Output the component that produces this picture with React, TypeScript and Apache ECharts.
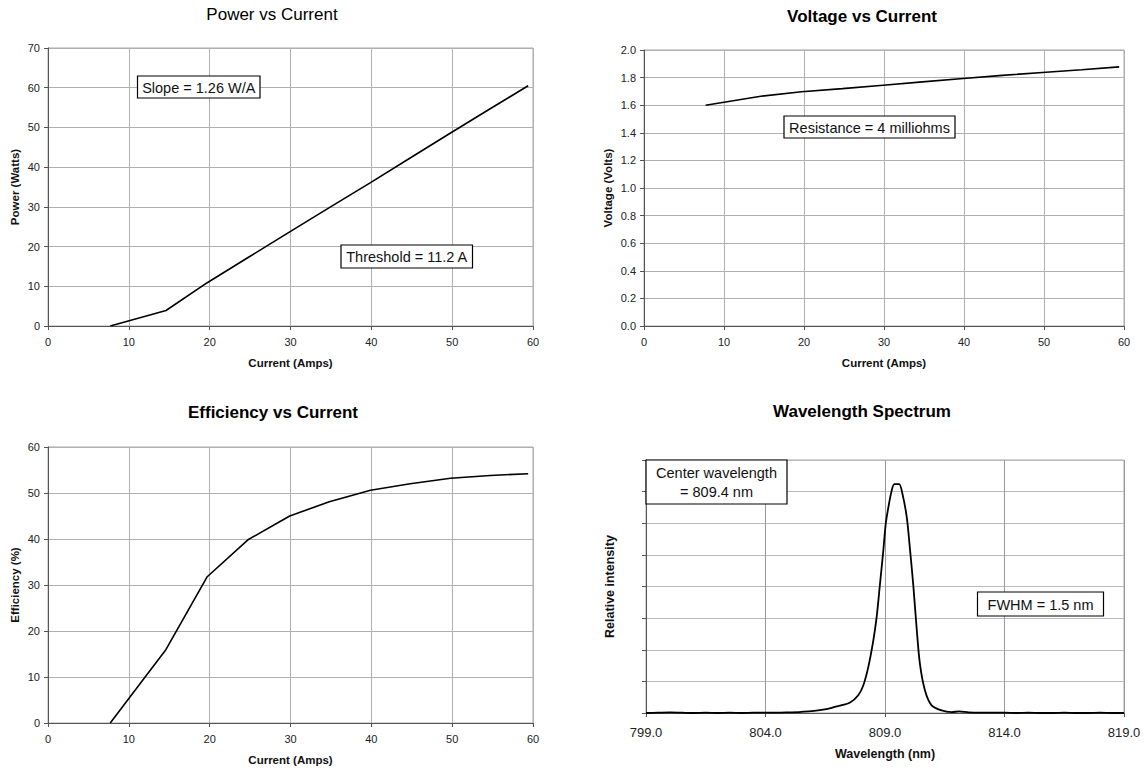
import React, { useEffect, useRef } from "react";
import * as echarts from "echarts";

// ---------- data ----------
const current = [7.7, 14.6, 19.7, 24.8, 29.9, 34.8, 39.9, 44.8, 49.8, 54.7, 59.4];
const powerW = [0, 3.9, 10.9, 17.3, 23.7, 29.8, 36.1, 42.3, 48.6, 54.7, 60.5];
const voltageV = [1.6, 1.665, 1.698, 1.72, 1.745, 1.769, 1.794, 1.816, 1.837, 1.857, 1.878];
const efficiencyPct = [0, 16.0, 31.8, 39.9, 45.0, 48.1, 50.6, 52.0, 53.2, 53.8, 54.2];

const wavelengthNm = [
  799.0, 799.5, 800.0, 800.5, 801.0, 801.5, 802.0, 802.5, 803.0, 803.5, 804.0, 804.5,
  805.0, 805.4, 805.8, 806.2, 806.6, 806.9, 807.2, 807.54, 807.88, 808.09, 808.3, 808.51,
  808.65, 808.79, 808.93, 809.03, 809.14, 809.27, 809.39, 809.59, 809.73, 809.91, 810.05,
  810.19, 810.32, 810.46, 810.67, 810.95, 811.37, 811.79, 812.1, 812.5, 813.0, 813.5,
  814.0, 814.5, 815.0, 815.5, 816.0, 816.5, 817.0, 817.5, 818.0, 818.5, 819.0,
];
const intensity = [
  0.0, 0.01, 0.02, 0.01, 0.0, 0.01, 0.0, 0.01, 0.0, 0.01, 0.01, 0.01,
  0.02, 0.03, 0.05, 0.08, 0.13, 0.19, 0.25, 0.33, 0.56, 0.87, 1.45, 2.29,
  3.03, 4.08, 5.14, 5.98, 6.5, 7.0, 7.24, 7.24, 6.93, 6.19, 5.14,
  3.98, 2.72, 1.56, 0.72, 0.24, 0.08, 0.03, 0.05, 0.02, 0.01, 0.01,
  0.01, 0.0, 0.01, 0.0, 0.0, 0.01, 0.0, 0.0, 0.01, 0.0, 0.0,
];

const powerTicks = { min: 0, max: 70, interval: 10 };
const voltageTicks = { min: 0, max: 2, interval: 0.2 };
const effTicks = { min: 0, max: 60, interval: 10 };
const currentTicks = { min: 0, max: 60, interval: 10 };
const waveTicks = { min: 799, max: 819, interval: 5 };
const intensityTicks = { min: 0, max: 8, interval: 1 };

const titles = ["Power vs Current", "Voltage vs Current", "Efficiency vs Current", "Wavelength Spectrum"];
const notes = ["Slope = 1.26 W/A", "Threshold = 11.2 A", "Resistance = 4 milliohms", "Center wavelength\n= 809.4 nm", "FWHM = 1.5 nm"];

const FONT = "'Liberation Sans', Arial, Helvetica, sans-serif";

function pairs(xs: number[], ys: number[]) {
  return xs.map((x, i) => [x, ys[i]]);
}

export default function App() {
  const ref = useRef<HTMLDivElement>(null);
  useEffect(() => {
    if (!ref.current) return;
    const chart = echarts.init(ref.current, undefined, { renderer: "svg" });

    const grids = [
      { left: 48, top: 48, width: 485, height: 278 },
      { left: 644, top: 50, width: 480, height: 276 },
      { left: 48, top: 447, width: 485, height: 276 },
      { left: 646, top: 460, width: 478, height: 253 },
    ].map((g) => ({ ...g, show: true, borderColor: "#a8a8a8", borderWidth: 1, backgroundColor: "transparent", containLabel: false }));

    const axisCommon = (nameSize: number, labelSize: number, margin: number) => ({
      type: "value" as const,
      nameLocation: "middle" as const,
      nameTextStyle: { fontFamily: FONT, fontWeight: "bold", fontSize: nameSize, color: "#111" },
      axisLine: { show: true, lineStyle: { color: "#555", width: 1 } },
      axisTick: { show: true, length: 4, lineStyle: { color: "#555" } },
      axisLabel: { fontFamily: FONT, fontSize: labelSize, color: "#222", margin },
      splitLine: { show: true, lineStyle: { color: "#b0b0b0", width: 1 } },
    });

    const xAxis = [
      { ...axisCommon(11.5, 11, 10), gridIndex: 0, ...currentTicks, name: "Current (Amps)", nameGap: 31 },
      { ...axisCommon(11.5, 11, 10), gridIndex: 1, ...currentTicks, name: "Current (Amps)", nameGap: 31 },
      { ...axisCommon(11.5, 11, 10), gridIndex: 2, ...currentTicks, name: "Current (Amps)", nameGap: 31 },
      {
        ...axisCommon(12.5, 13, 13),
        gridIndex: 3,
        ...waveTicks,
        name: "Wavelength (nm)",
        nameGap: 34,
        axisLabel: { fontFamily: FONT, fontSize: 13, color: "#222", margin: 13, formatter: (v: number) => v.toFixed(1) },
        splitLine: { show: true, lineStyle: { color: "#999", width: 1 } },
      },
    ];
    const yAxis = [
      { ...axisCommon(11.5, 11, 8), gridIndex: 0, ...powerTicks, name: "Power (Watts)", nameGap: 27 },
      {
        ...axisCommon(11.5, 11, 8),
        gridIndex: 1,
        ...voltageTicks,
        name: "Voltage (Volts)",
        nameGap: 30,
        axisLabel: { fontFamily: FONT, fontSize: 11, color: "#222", margin: 8, formatter: (v: number) => v.toFixed(1) },
      },
      { ...axisCommon(11.5, 11, 8), gridIndex: 2, ...effTicks, name: "Efficiency (%)", nameGap: 27 },
      {
        ...axisCommon(12.5, 11, 8),
        gridIndex: 3,
        ...intensityTicks,
        name: "Relative intensity",
        nameGap: 30,
        axisLabel: { show: false },
        splitLine: { show: true, lineStyle: { color: "#bbb", width: 1 } },
      },
    ];

    const lineSeries = (idx: number, data: number[][], width: number, smooth: boolean | number) => ({
      type: "line" as const,
      xAxisIndex: idx,
      yAxisIndex: idx,
      data,
      showSymbol: false,
      symbol: "none",
      smooth,
      lineStyle: { color: "#000", width },
      z: 5,
    });

    const titlePos = [
      [272, 14, "normal"],
      [862, 16, "bold"],
      [273, 412, "bold"],
      [862, 411, "bold"],
    ];
    const titleGraphics = titles.map((t, i) => ({
      type: "text",
      x: titlePos[i][0] as number,
      y: titlePos[i][1] as number,
      z: 100,
      style: {
        text: t,
        textAlign: "center",
        textVerticalAlign: "middle",
        font: `${titlePos[i][2]} 17px ${FONT}`,
        fill: "#000",
      },
    }));

    const boxes = [
      [137.5, 76, 122.5, 22],
      [341, 245, 131.5, 23],
      [784, 116, 171, 22],
      [646, 460, 141, 44],
      [977.5, 592, 126, 24],
    ];
    const noteGraphics: any[] = [];
    notes.forEach((t, i) => {
      const [x, y, w, h] = boxes[i];
      noteGraphics.push({
        type: "rect",
        z: 100,
        shape: { x, y, width: w, height: h },
        style: { fill: "#fff", stroke: "#000", lineWidth: 1.2 },
      });
      noteGraphics.push({
        type: "text",
        z: 101,
        x: x + w / 2,
        y: y + h / 2 + 0.5,
        style: {
          text: t,
          textAlign: "center",
          textVerticalAlign: "middle",
          font: `normal 14.5px ${FONT}`,
          lineHeight: 19.5,
          fill: "#111",
        },
      });
    });

    chart.setOption({
      animation: false,
      backgroundColor: "#fff",
      textStyle: { fontFamily: FONT },
      grid: grids,
      xAxis,
      yAxis,
      series: [
        lineSeries(0, pairs(current, powerW), 1.6, false),
        lineSeries(1, pairs(current, voltageV), 1.6, false),
        lineSeries(2, pairs(current, efficiencyPct), 1.6, false),
        lineSeries(3, pairs(wavelengthNm, intensity), 1.8, 0.3),
      ],
      graphic: [...titleGraphics, ...noteGraphics],
    });

    return () => chart.dispose();
  }, []);

  return (
    <div
      ref={ref}
      style={{ position: "absolute", left: 0, top: 0, width: 1144, height: 773, background: "#fff" }}
    />
  );
}
